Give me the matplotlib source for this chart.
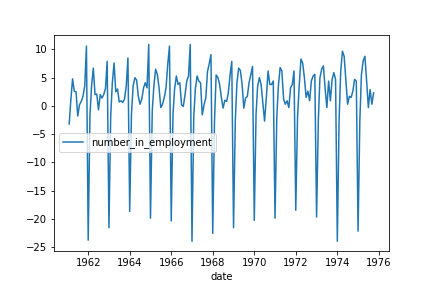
import matplotlib
matplotlib.use("Agg")
import matplotlib.pyplot as plt
import pandas as pd
import numpy as np

start_month = "1961-02-01"
values_1961 = [-3.2, 1.0, 4.8, 2.6, 2.5, -1.8, 0.2, 0.8, 1.7, 3.5, 10.6]  # Feb-Dec
values_1962 = [-23.8, -1.6, 3.5, 6.7, 2.0, 2.1, -0.7, 2.0, 1.4, 2.0, 3.1, 7.9]
values_1963 = [-21.6, -1.8, 4.0, 7.6, 2.5, 3.0, 0.7, 0.9, 0.6, 1.2, 3.5, 8.5]
values_1964 = [-18.7, -1.5, 3.5, 5.0, 4.6, 1.7, 0.3, 1.2, 3.2, 4.1, 3.2, 10.9]
values_1965 = [-19.9, -0.9, 3.5, 6.5, 5.6, 3.2, -0.3, 0.3, 1.5, 3.2, 7.4, 10.6]
values_1966 = [-20.4, -1.5, 3.0, 5.3, 3.8, 4.1, 0.2, -0.1, 2.0, 4.4, 5.3, 10.9]
values_1967 = [-24.0, -2.0, 3.0, 5.3, 4.4, 4.1, -1.6, 0.2, 1.4, 6.1, 7.5, 9.1]
values_1968 = [-22.6, -2.7, 5.5, 5.0, 3.8, 1.5, -0.4, 1.0, 0.8, 2.3, 5.5, 7.9]
values_1969 = [-21.6, -2.7, 4.0, 6.7, 6.3, 3.8, -0.4, 1.4, 1.7, 4.1, 5.6, 7.0]
values_1970 = [-20.3, -1.5, 3.5, 5.0, 3.8, 0.5, -2.7, 1.5, 6.2, 3.8, 3.8, 4.4]
values_1971 = [-19.9, -2.0, 3.5, 6.8, 6.2, 1.2, 0.3, 0.9, -0.3, 3.2, 3.8, 6.2]
values_1972 = [-18.5, -2.0, 3.5, 8.3, 7.6, 5.0, 1.5, 2.6, 0.9, 4.4, 5.3, 5.6]
values_1973 = [-19.7, -2.5, 5.0, 6.5, 7.1, 3.0, -0.3, 4.4, 0.9, 4.7, 5.9, 4.7]
values_1974 = [-24.0, -2.7, 6.0, 9.7, 8.8, 4.4, 0.3, 1.7, 1.5, 2.6, 4.7, 4.4]
values_1975 = [-22.2, -2.7, 5.5, 8.0, 8.8, 4.4, -0.3, 2.9, 0.3, 2.3]  # Jan-Oct

series_name = "number_in_employment"
x_label = "date"

values = (values_1961 + values_1962 + values_1963 + values_1964 + values_1965
          + values_1966 + values_1967 + values_1968 + values_1969 + values_1970
          + values_1971 + values_1972 + values_1973 + values_1974 + values_1975)
dates = pd.date_range(start_month, periods=len(values), freq="MS")

fig, ax = plt.subplots(figsize=(6, 4), dpi=72)
fig.subplots_adjust(left=0.125, right=0.9, top=0.88, bottom=0.128)
ax.plot(dates.to_pydatetime(), values, color="#1f77b4", label=series_name)
ax.set_xlabel(x_label)
ax.legend(loc="center left")
fig.savefig("out.png", dpi=72)
